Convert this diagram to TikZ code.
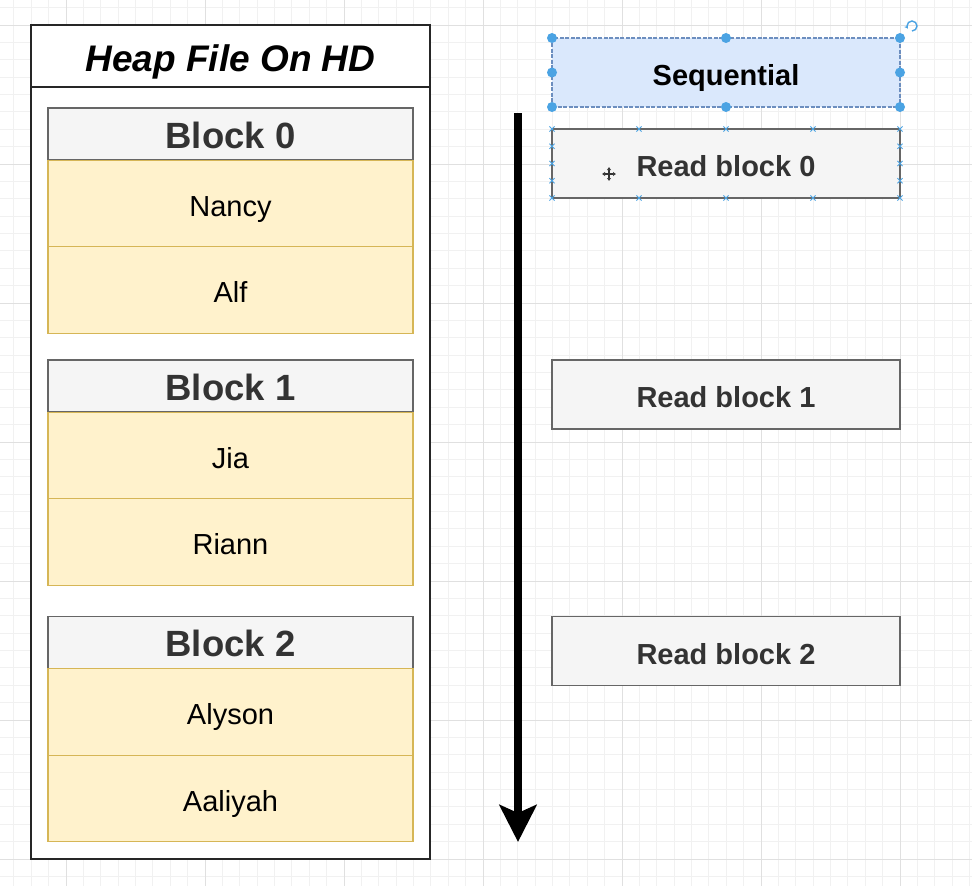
\documentclass[tikz,border=0pt]{standalone}
\usepackage{fontspec}
\setmainfont{Liberation Sans}
\usetikzlibrary{arrows.meta}
\definecolor{gridminor}{HTML}{F1F1F1}
\definecolor{gridmajor}{HTML}{E0E0E0}
\definecolor{hdrfill}{HTML}{F5F5F5}
\definecolor{hdrdraw}{HTML}{666666}
\definecolor{rowfill}{HTML}{FFF2CC}
\definecolor{rowdraw}{HTML}{D6B656}
\definecolor{seqfill}{HTML}{DAE8FC}
\definecolor{seqdraw}{HTML}{6C8EBF}
\definecolor{handle}{HTML}{4BA3E3}
\definecolor{darktext}{HTML}{333333}
\newcommand{\lowertext}[2]{\raisebox{-#1}{#2}}
\tikzset{
  box/.style={rectangle, inner sep=0pt, outer sep=0pt, text depth=0pt},
  container/.style={box, draw=black!85, line width=1.5pt, fill=white, minimum width=399pt},
  blockhdr/.style={box, draw=hdrdraw, line width=1.3pt, fill=hdrfill, minimum width=365pt, minimum height=52pt,
    text=darktext, font=\fontsize{36.5}{40}\selectfont\bfseries, text height=26.1pt},
  rowbox/.style={box, draw=rowdraw, line width=1.2pt, fill=rowfill, minimum width=365pt, minimum height=86.5pt,
    font=\fontsize{29}{32}\selectfont, text height=20.8pt},
  readbox/.style={box, draw=hdrdraw, line width=1.3pt, fill=hdrfill, minimum width=348pt, minimum height=69pt,
    text=darktext, font=\fontsize{29}{32}\selectfont\bfseries, text height=20.8pt},
  seqbox/.style={box, draw=seqdraw, dash pattern=on 4pt off 1.5pt, line width=1.1pt, fill=seqfill,
    minimum width=348pt, minimum height=69pt, font=\fontsize{29}{32}\selectfont\bfseries, text height=20.8pt},
  handledot/.style={circle, fill=handle, inner sep=0pt, minimum size=10pt},
  xmark/.style={draw=handle, line width=1pt},
}
\begin{document}
\begin{tikzpicture}[x=1pt,y=-1pt]
\useasboundingbox (0,0) rectangle (972,886);
\fill[white] (0,0) rectangle (972,886);
% grid
\foreach \k in {-4,...,52} {
  \pgfmathsetmacro{\gx}{66+17.375*\k}
  \draw[gridminor, line width=0.8pt] (\gx,0) -- (\gx,886);
}
\foreach \k in {-2,...,50} {
  \pgfmathsetmacro{\gy}{25+17.375*\k}
  \draw[gridminor, line width=0.8pt] (0,\gy) -- (972,\gy);
}
\foreach \k in {-1,...,6} {
  \pgfmathsetmacro{\gx}{66+139*\k}
  \draw[gridmajor, line width=1pt] (\gx,0) -- (\gx,886);
}
\foreach \k in {0,...,6} {
  \pgfmathsetmacro{\gy}{25+139*\k}
  \draw[gridmajor, line width=1pt] (0,\gy) -- (972,\gy);
}
% container
\node[container, minimum height=834pt] (heap) at (230.5,442) {};
\node[container, minimum height=62pt, font=\fontsize{37}{40}\selectfont\bfseries\itshape, text height=26.5pt] (title) at (230.5,56) {\lowertext{2pt}{Heap File On HD}};
% block 0
\node[blockhdr] (b0) at (230.5,134) {\lowertext{1pt}{Block 0}};
\node[rowbox] (r01) at (230.5,203.4) {\lowertext{2.6pt}{Nancy}};
\node[rowbox] (r02) at (230.5,289.9) {\lowertext{2.6pt}{Alf}};
% block 1
\node[blockhdr] (b1) at (230.5,386) {\lowertext{1pt}{Block 1}};
\node[rowbox] (r11) at (230.5,455.4) {\lowertext{2.6pt}{Jia}};
\node[rowbox] (r12) at (230.5,541.9) {\lowertext{2.6pt}{Riann}};
% block 2
\node[blockhdr] (b2) at (230.5,642.5) {\lowertext{1pt}{Block 2}};
\node[rowbox] (r21) at (230.5,711.9) {\lowertext{2.6pt}{Alyson}};
\node[rowbox] (r22) at (230.5,798.4) {\lowertext{2.6pt}{Aaliyah}};
% arrow
\coordinate (astart) at (518,113);
\coordinate (aend) at (518,842);
\draw[line width=8.5pt, -{Stealth[length=37pt,width=37pt,inset=8pt]}] (astart) -- (aend);
% right boxes
\node[seqbox] (seq) at (726,72.5) {\lowertext{3pt}{Sequential}};
\node[readbox] (rd0) at (726,163.5) {\lowertext{3pt}{Read block 0}};
\node[readbox] (rd1) at (726,394.5) {\lowertext{3pt}{Read block 1}};
\node[readbox] (rd2) at (726,651) {\lowertext{3pt}{Read block 2}};
% selection handles
\foreach \a in {north west,north,north east,east,south east,south,south west,west}
  \node[handledot] at (seq.\a) {};
% rotation icon
\draw[handle, line width=1.4pt, -{Stealth[length=3.2pt,width=4.5pt]}] (912,26) ++(90:5) arc[start angle=90, end angle=-210, radius=5];
% connection points on Read block 0
\foreach \fx in {552,639,726,813,900} {
  \foreach \fy in {129,198} {
    \draw[xmark] (\fx-2.6,\fy-2.6) -- (\fx+2.6,\fy+2.6) (\fx-2.6,\fy+2.6) -- (\fx+2.6,\fy-2.6);
  }
}
\foreach \fx in {552,900} {
  \foreach \fy in {146.25,163.5,180.75} {
    \draw[xmark] (\fx-2.6,\fy-2.6) -- (\fx+2.6,\fy+2.6) (\fx-2.6,\fy+2.6) -- (\fx+2.6,\fy-2.6);
  }
}
% move cursor icon
\coordinate (mv) at (609,174);
\foreach \d in {0,90,180,270}
  \draw[darktext, line width=1.2pt, -{Latex[length=3pt,width=4.5pt]}] (mv) -- ++(\d:7);
\end{tikzpicture}
\end{document}
